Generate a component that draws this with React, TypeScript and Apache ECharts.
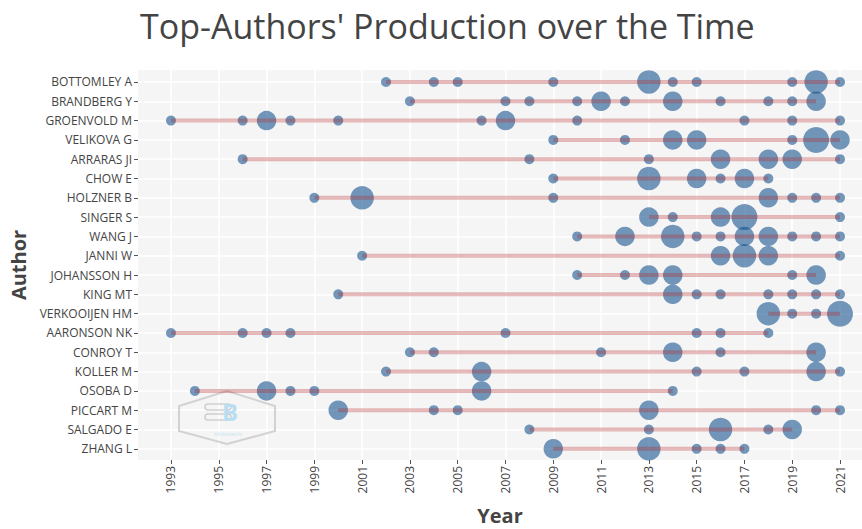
import React, { useEffect, useRef } from "react";
import * as echarts from "echarts";

const authors = [
  "BOTTOMLEY A", "BRANDBERG Y", "GROENVOLD M", "VELIKOVA G", "ARRARAS JI",
  "CHOW E", "HOLZNER B", "SINGER S", "WANG J", "JANNI W",
  "JOHANSSON H", "KING MT", "VERKOOIJEN HM", "AARONSON NK", "CONROY T",
  "KOLLER M", "OSOBA D", "PICCART M", "SALGADO E", "ZHANG L",
];

// [year, number of articles]
const bottomleyA = [[2002,1],[2004,1],[2005,1],[2009,1],[2013,3],[2014,1],[2015,1],[2019,1],[2020,3],[2021,1]];
const brandbergY = [[2003,1],[2007,1],[2008,1],[2010,1],[2011,2],[2012,1],[2014,2],[2016,1],[2018,1],[2019,1],[2020,2]];
const groenvoldM = [[1993,1],[1996,1],[1997,2],[1998,1],[2000,1],[2006,1],[2007,2],[2010,1],[2017,1],[2019,1],[2021,1]];
const velikovaG = [[2009,1],[2012,1],[2014,2],[2015,2],[2019,1],[2020,4],[2021,2]];
const arrarasJI = [[1996,1],[2008,1],[2013,1],[2016,2],[2018,2],[2019,2],[2021,1]];
const chowE = [[2009,1],[2013,3],[2015,2],[2016,1],[2017,2],[2018,1]];
const holznerB = [[1999,1],[2001,3],[2009,1],[2018,2],[2019,1],[2020,1],[2021,1]];
const singerS = [[2013,2],[2014,1],[2016,2],[2017,4],[2021,1]];
const wangJ = [[2010,1],[2012,2],[2014,3],[2015,1],[2016,1],[2017,2],[2018,2],[2019,1],[2020,1],[2021,1]];
const janniW = [[2001,1],[2016,2],[2017,3],[2018,2],[2021,1]];
const johanssonH = [[2010,1],[2012,1],[2013,2],[2014,2],[2019,1],[2020,2]];
const kingMT = [[2000,1],[2014,2],[2015,1],[2016,1],[2018,1],[2019,1],[2020,1],[2021,1]];
const verkooijenHM = [[2018,3],[2019,1],[2020,1],[2021,4]];
const aaronsonNK = [[1993,1],[1996,1],[1997,1],[1998,1],[2007,1],[2015,1],[2016,1],[2018,1]];
const conroyT = [[2003,1],[2004,1],[2011,1],[2014,2],[2016,1],[2020,2]];
const kollerM = [[2002,1],[2006,2],[2015,1],[2017,1],[2020,2],[2021,1]];
const osobaD = [[1994,1],[1997,2],[1998,1],[1999,1],[2006,2],[2014,1]];
const piccartM = [[2000,2],[2004,1],[2005,1],[2013,2],[2020,1],[2021,1]];
const salgadoE = [[2008,1],[2013,1],[2016,3],[2018,1],[2019,2]];
const zhangL = [[2009,2],[2013,3],[2015,1],[2016,1],[2017,1]];

const production = [
  bottomleyA, brandbergY, groenvoldM, velikovaG, arrarasJI,
  chowE, holznerB, singerS, wangJ, janniW,
  johanssonH, kingMT, verkooijenHM, aaronsonNK, conroyT,
  kollerM, osobaD, piccartM, salgadoE, zhangL,
];

const yearTicks = [1993,1995,1997,1999,2001,2003,2005,2007,2009,2011,2013,2015,2017,2019,2021];

export default function App() {
  const ref = useRef<HTMLDivElement>(null);
  useEffect(() => {
    document.body.style.margin = "0";
    if (!ref.current) return;
    const chart = echarts.init(ref.current, undefined, { renderer: "svg" });
    const diam = [0, 10, 19.5, 23.5, 26];
    const font = "'Open Sans', 'Noto Sans', sans-serif";

    const points: any[] = [];
    production.forEach((rows, i) => {
      rows.forEach(([y, f]) => points.push([y, i, f]));
    });

    const lineSeries = production.map((rows, i) => {
      const ys = rows.map((r) => r[0]);
      return {
        type: "line",
        name: authors[i],
        data: [[Math.min(...ys), i], [Math.max(...ys), i]],
        symbol: "none",
        silent: true,
        z: 4,
        lineStyle: { color: "rgba(178,34,34,0.3)", width: 4 },
      };
    });

    chart.setOption({
      animation: false,
      title: {
        text: "Top-Authors' Production over the Time",
        left: 135,
        top: 4,
        textStyle: { fontFamily: font, fontSize: 34, fontWeight: "normal", color: "#444" },
      },
      graphic: [
        {
          type: "group",
          z: 1,
          children: [
            {
              type: "polygon",
              shape: { points: [[227,391],[275,406],[275,431],[227,444],[179,431],[179,406]] },
              style: { fill: "none", stroke: "#d2d2d2", lineWidth: 2 },
              z: 1,
            },
            {
              type: "rect",
              shape: { x: 205, y: 404, width: 26, height: 6, r: 3 },
              style: { fill: "none", stroke: "#cfcfcf", lineWidth: 1.5 },
              z: 1,
            },
            {
              type: "rect",
              shape: { x: 205, y: 414, width: 26, height: 6, r: 3 },
              style: { fill: "none", stroke: "#cfcfcf", lineWidth: 1.5 },
              z: 1,
            },
            {
              type: "text",
              style: { text: "B", x: 222, y: 399, fill: "#b9def2", fontSize: 24, fontWeight: "bold", fontFamily: font },
              z: 1,
            },
            {
              type: "text",
              style: { text: "bibliometrix", x: 214, y: 431, fill: "#c5e3f3", fontSize: 5, fontFamily: font },
              z: 1,
            },
          ],
        },
      ],
      grid: {
        left: 138,
        right: 0,
        top: 70,
        bottom: 69,
        show: true,
        backgroundColor: "#f5f5f5",
        borderWidth: 0,
        outerBoundsMode: "none",
        containLabel: false,
      },
      xAxis: {
        type: "value",
        min: 1991.62,
        max: 2021.92,
        name: "Year",
        nameLocation: "middle",
        nameGap: 45,
        nameTextStyle: { fontFamily: font, fontSize: 20, fontWeight: "bold", color: "#444" },
        axisLine: { show: false, onZero: false },
        axisTick: { show: true, length: 4, customValues: yearTicks, lineStyle: { color: "#555" } },
        axisLabel: {
          customValues: yearTicks,
          rotate: 90,
          margin: 6,
          fontFamily: font,
          fontSize: 12,
          color: "#444",
          formatter: (v: number) => String(v),
        },
        splitLine: { show: true, lineStyle: { color: "#ffffff", width: 1.5 } },
      },
      yAxis: {
        type: "value",
        inverse: true,
        min: -0.62,
        max: 19.58,
        name: "Author",
        nameLocation: "middle",
        nameRotate: 90,
        nameGap: 95,
        nameTextStyle: { fontFamily: font, fontSize: 20, fontWeight: "bold", color: "#444" },
        axisLine: { show: false, onZero: false },
        axisTick: { show: true, length: 4, customValues: authors.map((_, i) => i), lineStyle: { color: "#555" } },
        axisLabel: {
          customValues: authors.map((_, i) => i),
          margin: 6,
          fontFamily: font,
          fontSize: 12,
          color: "#444",
          formatter: (v: number) => authors[Math.round(v)] ?? "",
        },
        splitLine: { show: true, lineStyle: { color: "#ffffff", width: 1.5 } },
      },
      series: [
        {
          type: "scatter",
          data: points,
          z: 3,
          symbolSize: (v: number[]) => diam[v[2]],
          itemStyle: { color: "rgba(16,78,139,0.72)" },
        },
        ...lineSeries,
      ],
    });
    return () => chart.dispose();
  }, []);
  return <div ref={ref} style={{ width: 862, height: 529 }} />;
}
